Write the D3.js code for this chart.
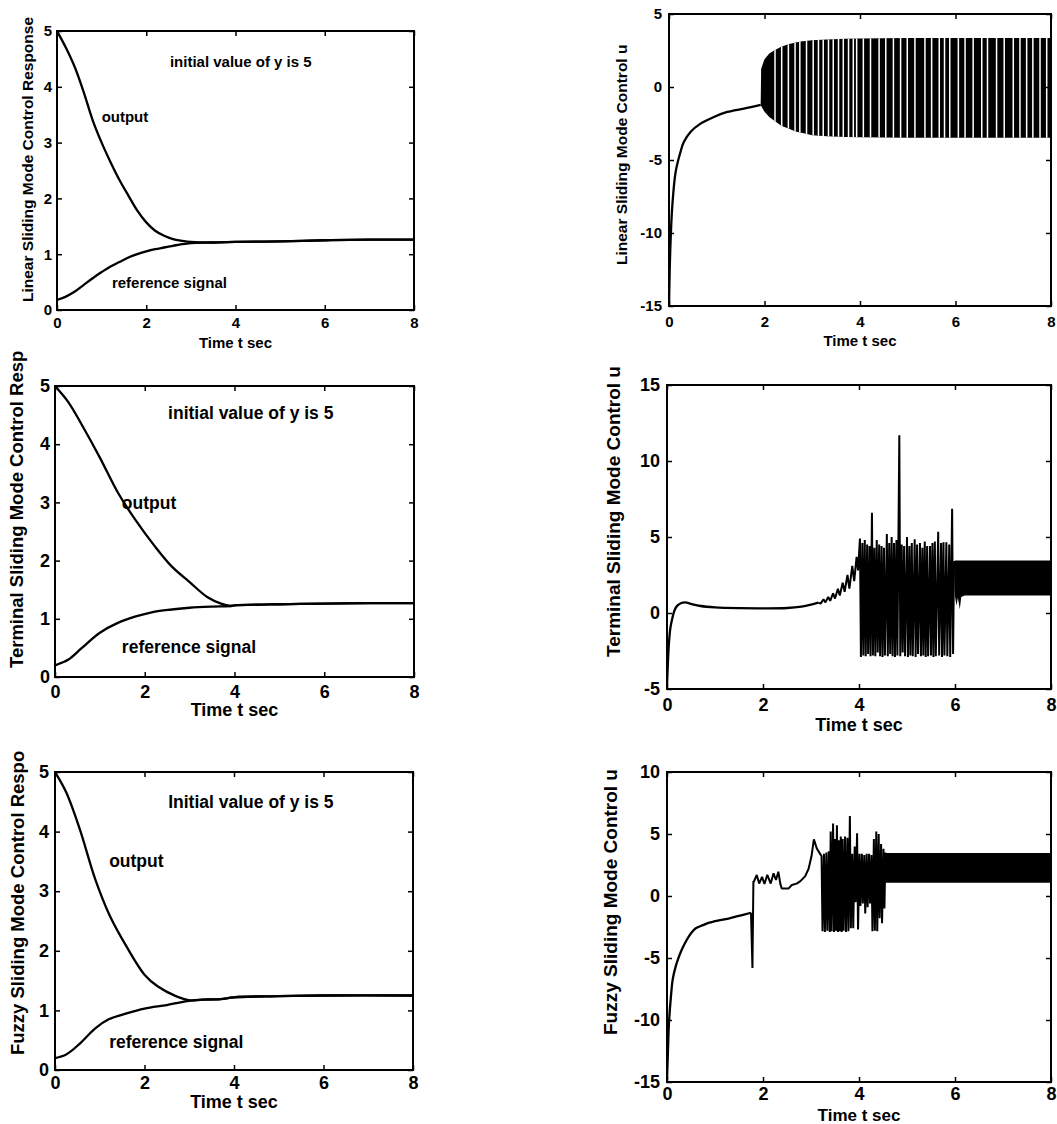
<!DOCTYPE html>
<html>
<head>
<meta charset="utf-8">
<script src="https://cdn.jsdelivr.net/npm/d3@7"></script>
<style>
  body { margin: 0; background: #fff; }
  text { font-family: "Liberation Sans", Arial, sans-serif; font-weight: bold; fill: #000; }
</style>
</head>
<body>
<div id="chart"></div>
<script>
// ---- data ----
const xTicks = [0, 2, 4, 6, 8]

// left column: output y(t) and reference signal
const linOutT = [0, 0.2, 0.4, 0.6, 0.8, 1.0, 1.2, 1.4, 1.6, 1.8, 2.0, 2.2, 2.4, 2.6, 2.8, 3.0, 3.5, 4, 5, 6, 7, 8]
const linOutY = [5, 4.7, 4.35, 3.9, 3.4, 3.0, 2.65, 2.33, 2.05, 1.78, 1.57, 1.42, 1.33, 1.27, 1.24, 1.22, 1.21, 1.22, 1.23, 1.25, 1.26, 1.26]
const linRefT = [0, 0.2, 0.4, 0.6, 0.8, 1.0, 1.2, 1.4, 1.6, 1.8, 2.0, 2.2, 2.4, 2.6, 2.8, 3.0, 3.5, 4, 5, 6, 7, 8]
const linRefY = [0.18, 0.24, 0.33, 0.45, 0.57, 0.68, 0.78, 0.86, 0.94, 1.0, 1.05, 1.09, 1.12, 1.15, 1.18, 1.2, 1.21, 1.22, 1.23, 1.25, 1.26, 1.26]

const termOutT = [0, 0.3, 0.6, 1.0, 1.4, 1.8, 2.2, 2.6, 3.0, 3.4, 3.7, 3.9, 4.0, 5, 6, 7, 8]
const termOutY = [5, 4.72, 4.33, 3.77, 3.17, 2.69, 2.27, 1.9, 1.63, 1.37, 1.26, 1.22, 1.23, 1.25, 1.26, 1.27, 1.27]
const termRefT = [0, 0.3, 0.6, 1.0, 1.4, 1.8, 2.2, 2.6, 3.0, 3.5, 3.9, 4.0, 5, 6, 7, 8]
const termRefY = [0.2, 0.3, 0.5, 0.76, 0.93, 1.04, 1.12, 1.16, 1.19, 1.21, 1.22, 1.23, 1.25, 1.26, 1.27, 1.27]

const fuzOutT = [0, 0.25, 0.55, 0.9, 1.23, 1.6, 2.0, 2.3, 2.7, 3.0, 3.3, 3.7, 4.0, 5, 6, 8]
const fuzOutY = [5, 4.66, 4.05, 3.2, 2.58, 2.07, 1.6, 1.4, 1.24, 1.17, 1.18, 1.19, 1.22, 1.24, 1.25, 1.25]
const fuzRefT = [0, 0.25, 0.55, 0.9, 1.2, 1.6, 2.0, 2.5, 3.0, 3.3, 3.7, 4.0, 5, 6, 8]
const fuzRefY = [0.2, 0.26, 0.44, 0.7, 0.85, 0.95, 1.03, 1.09, 1.16, 1.18, 1.19, 1.22, 1.24, 1.25, 1.25]

// right column: control u(t)
const linUT = [0, 0.015, 0.035, 0.07, 0.14, 0.24, 0.31, 0.45, 0.66, 0.94, 1.22, 1.57, 1.92]
const linU = [-15, -12.5, -10.4, -8.1, -5.8, -4.45, -3.77, -3.08, -2.51, -2.05, -1.71, -1.48, -1.22]
// chattering band: upper / lower envelope
const linBandT = [1.92, 1.93, 2.0, 2.1, 2.2, 2.35, 2.5, 2.65, 2.8, 3.0, 3.3, 3.7, 4.0, 5, 6, 7, 8]
const linBandHi = [-1.22, 1.25, 1.9, 2.3, 2.5, 2.75, 2.92, 3.05, 3.13, 3.2, 3.26, 3.3, 3.32, 3.35, 3.36, 3.36, 3.36]
const linBandLo = [-1.22, -1.3, -1.7, -2.05, -2.3, -2.65, -2.85, -3.05, -3.15, -3.3, -3.38, -3.42, -3.45, -3.47, -3.48, -3.48, -3.48]
// white streaks seen inside the band
const linGaps = [2.22, 2.36, 2.5, 2.64, 2.74, 2.88, 3.02, 3.13, 3.23, 3.34, 3.44, 3.55, 3.65, 3.76, 3.86,
  3.93, 4.07, 4.22, 4.4, 4.54, 4.7, 4.85, 4.99, 5.15, 5.36, 5.5, 5.66, 5.77, 5.88, 6.06, 6.2, 6.37,
  6.55, 6.67, 6.86, 7.02, 7.21, 7.35, 7.49, 7.62, 7.77, 7.91]

const termUT = [0, 0.02, 0.04, 0.07, 0.1, 0.16, 0.22, 0.3, 0.38, 0.5, 0.7, 1.0, 1.5, 2.0, 2.5, 2.8, 3.0, 3.15]
const termU = [-4.8, -3.2, -2.0, -1.0, -0.5, 0.2, 0.5, 0.66, 0.7, 0.6, 0.46, 0.37, 0.32, 0.31, 0.33, 0.42, 0.55, 0.68]
const termChaosT = [3.15, 3.2, 3.26, 3.3, 3.36, 3.4, 3.46, 3.5, 3.56, 3.6, 3.66, 3.7, 3.76, 3.8, 3.86, 3.9, 3.95, 3.98,
  4.02, 4.04, 4.07, 4.09, 4.12, 4.14, 4.17, 4.19, 4.22, 4.24, 4.27, 4.29, 4.32, 4.34, 4.37, 4.39, 4.42, 4.44,
  4.47, 4.49, 4.52, 4.54, 4.58, 4.60, 4.63, 4.65, 4.68, 4.70, 4.73, 4.75, 4.78, 4.80, 4.84, 4.86, 4.89, 4.91,
  4.94, 4.96, 5.00, 5.02, 5.05, 5.07, 5.10, 5.12, 5.16, 5.18, 5.21, 5.23, 5.27, 5.29, 5.32, 5.34, 5.37, 5.39,
  5.42, 5.44, 5.48, 5.50, 5.53, 5.55, 5.58, 5.60, 5.65, 5.67, 5.71, 5.73, 5.76, 5.78, 5.82, 5.84, 5.88, 5.90,
  5.94, 5.96, 5.98]
const termChaosU = [0.68, 0.62, 0.9, 0.7, 1.05, 0.8, 1.3, 0.95, 1.6, 1.15, 2.0, 1.4, 2.5, 1.6, 3.1, 2.1, 3.7, 2.8,
  4.9, -2.9, 4.6, -2.8, 4.8, -2.85, 4.5, -2.7, 4.4, -2.85, 6.6, -2.8, 4.3, -2.85, 4.8, -2.6, 4.5, -2.85,
  4.4, -2.9, 4.3, -2.8, 5.2, -2.85, 4.6, -2.7, 5.0, -2.85, 4.6, -2.9, 4.8, -2.8, 11.7, -2.85, 4.5, -2.6,
  4.4, -2.85, 5.0, -2.9, 4.4, -2.8, 4.6, -2.85, 4.85, -2.9, 4.5, -2.7, 4.6, -2.85, 4.3, -2.8, 4.7, -2.9,
  4.4, -2.85, 4.4, -2.8, 4.6, -2.9, 4.7, -2.85, 5.35, -2.8, 4.6, -2.9, 4.65, -2.8, 4.65, -2.85, 4.5, -2.9,
  6.85, -2.7, 3.4]
const termBandT = [5.98, 6.0, 6.03, 6.06, 6.1, 6.13, 6.2, 7, 8]
const termBandHi = [3.4, 3.45, 3.45, 3.45, 3.45, 3.45, 3.45, 3.45, 3.45]
const termBandLo = [3.4, 1.1, 0.5, 1.0, 0.25, 1.05, 1.15, 1.15, 1.15]

const fuzUT = [0, 0.02, 0.04, 0.08, 0.12, 0.18, 0.23, 0.3, 0.41, 0.5, 0.6, 0.75, 0.88, 1.1, 1.3, 1.5, 1.75]
const fuzU = [-14.8, -12.5, -10.3, -8.2, -6.7, -5.7, -5.1, -4.4, -3.55, -3.0, -2.6, -2.35, -2.15, -1.95, -1.8, -1.6, -1.35]
const fuzChaosT = [1.75, 1.78, 1.8, 1.81, 1.87, 1.92, 1.98, 2.03, 2.09, 2.16, 2.22, 2.27, 2.32, 2.36, 2.39, 2.53,
  2.6, 2.7, 2.78, 2.88, 2.95, 3.01, 3.06, 3.12, 3.22,
  3.24, 3.27, 3.29, 3.32, 3.34, 3.37, 3.39, 3.41, 3.43, 3.46, 3.48, 3.5, 3.52, 3.54, 3.56, 3.58, 3.6, 3.62,
  3.64, 3.66, 3.68, 3.71, 3.73, 3.76, 3.78, 3.81, 3.83, 3.86, 3.88, 3.91, 3.93, 3.96, 3.98, 4.01, 4.03,
  4.06, 4.08, 4.11, 4.13, 4.16, 4.18, 4.21, 4.23, 4.26, 4.28, 4.31, 4.33, 4.36, 4.38, 4.41, 4.43, 4.46,
  4.48, 4.51, 4.53, 4.55]
const fuzChaosU = [-1.35, -5.8, 1.2, 1.15, 1.7, 1.0, 1.55, 0.97, 1.7, 1.0, 1.83, 1.29, 1.96, 1.0, 0.6, 0.6,
  0.89, 1.0, 1.2, 1.6, 2.2, 3.2, 4.57, 3.84, 3.2,
  -2.85, 3.4, -2.9, 3.5, -2.8, 3.6, -2.9, 5.2, -2.85, 5.85, -2.9, 4.6, -2.8, 5.7, -2.9, 4.5, -2.85, 4.8,
  -2.9, 4.6, -2.8, 4.8, -2.9, 4.7, -2.85, 6.45, -2.6, 3.4, -2.6, 4.0, -0.5, 5.05, -2.7, 3.4, -0.8,
  3.4, -0.6, 3.3, -1.4, 3.4, -0.9, 3.4, -0.6, 3.3, -2.85, 4.6, -2.8, 5.2, -2.85, 5.0, -1.8, 4.2,
  -2.2, 3.8, -1.0, 3.5]
const fuzBandT = [4.55, 8]
const fuzBandHi = [3.47, 3.47]
const fuzBandLo = [1.06, 1.06]

// ---- layout ----
const W = 1057, H = 1124
const svg = d3.select('#chart').append('svg').attr('width', W).attr('height', H)
svg.append('rect').attr('width', W).attr('height', H).attr('fill', '#fff')

const pts = (t, v) => d3.zip(t, v)

const panels = [
  {id: 'p1', x0: 57, x1: 414, y0: 31, y1: 310, yDom: [0, 5], yTicks: [0, 1, 2, 3, 4, 5], fs: 15, lfs: 15.5,
    xPad: 7.5, yPad: 5, timeY: 343, tfs: 15, yl: {x: 28, y: 302}, noteFs: 15,
    lines: [[linOutT, linOutY], [linRefT, linRefY]],
    notes: [['initial value of y is 5', 2.53, 4.44], ['output', 1.0, 3.46], ['reference signal', 1.23, 0.48]],
    ylabel: 'Linear Sliding Mode Control Response'},
  {id: 'p2', x0: 669, x1: 1051, y0: 14, y1: 306, yDom: [-15, 5], yTicks: [-15, -10, -5, 0, 5], fs: 15, lfs: 15.5,
    xPad: 10.5, yPad: 7, timeY: 341, tfs: 15, yl: {x: 622, y: 265},
    lines: [[linUT, linU]], band: [linBandT, linBandHi, linBandLo], gaps: linGaps,
    ylabel: 'Linear Sliding Mode Control u'},
  {id: 'p3', x0: 55, x1: 414, y0: 386, y1: 677, yDom: [0, 5], yTicks: [0, 1, 2, 3, 4, 5], fs: 18, lfs: 18.5,
    xPad: 8.5, yPad: 5, timeY: 710, tfs: 18, yl: {x: 17, y: 668}, noteFs: 17.5,
    lines: [[termOutT, termOutY], [termRefT, termRefY]],
    notes: [['initial value of y is 5', 2.52, 4.54], ['output', 1.49, 3.0], ['reference signal', 1.49, 0.52]],
    ylabel: 'Terminal Sliding Mode Control Resp'},
  {id: 'p4', x0: 667, x1: 1051, y0: 385, y1: 689, yDom: [-5, 15], yTicks: [-5, 0, 5, 10, 15], fs: 18, lfs: 19,
    xPad: 9.5, yPad: 7, timeY: 725, tfs: 18, yl: {x: 613, y: 657},
    lines: [[termUT, termU]], chaos: [termChaosT, termChaosU], band: [termBandT, termBandHi, termBandLo],
    ylabel: 'Terminal Sliding Mode Control u'},
  {id: 'p5', x0: 55, x1: 413, y0: 772, y1: 1070, yDom: [0, 5], yTicks: [0, 1, 2, 3, 4, 5], fs: 18, lfs: 18.5,
    xPad: 6.5, yPad: 6, timeY: 1102, tfs: 18, yl: {x: 18, y: 1055}, noteFs: 17.5,
    lines: [[fuzOutT, fuzOutY], [fuzRefT, fuzRefY]],
    notes: [['Initial value of y is 5', 2.53, 4.5], ['output', 1.21, 3.51], ['reference signal', 1.21, 0.47]],
    ylabel: 'Fuzzy Sliding Mode Control Respo'},
  {id: 'p6', x0: 667, x1: 1051, y0: 772, y1: 1082, yDom: [-15, 10], yTicks: [-15, -10, -5, 0, 5, 10], fs: 18, lfs: 19,
    xPad: 5.5, yPad: 7, timeY: 1115, tfs: 17, yl: {x: 610, y: 1035},
    lines: [[fuzUT, fuzU]], chaos: [fuzChaosT, fuzChaosU], band: [fuzBandT, fuzBandHi, fuzBandLo],
    ylabel: 'Fuzzy Sliding Mode Control u'}
]

panels.forEach(p => {
  const x = d3.scaleLinear().domain([0, 8]).range([p.x0, p.x1])
  const y = d3.scaleLinear().domain(p.yDom).range([p.y1, p.y0])
  const g = svg.append('g')

  g.append('clipPath').attr('id', 'clip-' + p.id).append('rect')
    .attr('x', p.x0).attr('y', p.y0).attr('width', p.x1 - p.x0).attr('height', p.y1 - p.y0)
  const plot = g.append('g').attr('clip-path', 'url(#clip-' + p.id + ')')

  if (p.band) {
    const rows = p.band[0].map((t, i) => [t, p.band[1][i], p.band[2][i]])
    const area = d3.area().x(d => x(d[0])).y0(d => y(d[2])).y1(d => y(d[1]))
    plot.append('path').attr('d', area(rows)).attr('fill', '#000')
    if (p.gaps) {
      plot.append('clipPath').attr('id', 'band-' + p.id).append('path').attr('d', area(rows))
      plot.append('g').attr('clip-path', 'url(#band-' + p.id + ')')
        .selectAll('line').data(p.gaps).enter().append('line')
        .attr('x1', d => x(d)).attr('x2', d => x(d))
        .attr('y1', p.y0).attr('y2', p.y1)
        .attr('stroke', '#fff').attr('stroke-width', 1.5)
    }
  }

  const smooth = d3.line().x(d => x(d[0])).y(d => y(d[1])).curve(d3.curveCatmullRom.alpha(0.5))
  p.lines.forEach(s => {
    plot.append('path').attr('d', smooth(pts(s[0], s[1])))
      .attr('fill', 'none').attr('stroke', '#000').attr('stroke-width', 2.3)
  })
  if (p.chaos) {
    const straight = d3.line().x(d => x(d[0])).y(d => y(d[1]))
    plot.append('path').attr('d', straight(pts(p.chaos[0], p.chaos[1])))
      .attr('fill', 'none').attr('stroke', '#000').attr('stroke-width', 2).attr('stroke-linejoin', 'bevel')
  }

  // frame and inward ticks on all four sides
  g.append('rect').attr('x', p.x0).attr('y', p.y0).attr('width', p.x1 - p.x0).attr('height', p.y1 - p.y0)
    .attr('fill', 'none').attr('stroke', '#000').attr('stroke-width', 2)

  const fmt = d => String(d)
  const style = sel => {
    sel.select('.domain').remove()
    sel.selectAll('line').attr('stroke', '#000').attr('stroke-width', 1.5)
    sel.selectAll('text').style('font-size', p.fs + 'px').attr('fill', '#000')
  }
  g.append('g').attr('transform', 'translate(0,' + p.y1 + ')')
    .call(d3.axisBottom(x).tickValues(xTicks).tickSizeInner(-5).tickSizeOuter(0).tickPadding(p.xPad).tickFormat(fmt))
    .call(style)
  g.append('g').attr('transform', 'translate(0,' + p.y0 + ')')
    .call(d3.axisTop(x).tickValues(xTicks).tickSizeInner(-5).tickSizeOuter(0).tickFormat(''))
    .call(style)
  g.append('g').attr('transform', 'translate(' + p.x0 + ',0)')
    .call(d3.axisLeft(y).tickValues(p.yTicks).tickSizeInner(-5).tickSizeOuter(0).tickPadding(p.yPad).tickFormat(fmt))
    .call(style)
  g.append('g').attr('transform', 'translate(' + p.x1 + ',0)')
    .call(d3.axisRight(y).tickValues(p.yTicks).tickSizeInner(-5).tickSizeOuter(0).tickFormat(''))
    .call(style)

  g.append('text').text('Time t sec')
    .attr('x', (p.x0 + p.x1) / 2).attr('y', p.timeY).attr('dy', '0.35em')
    .attr('text-anchor', 'middle').style('font-size', p.tfs + 'px')

  g.append('text').text(p.ylabel)
    .attr('transform', 'translate(' + p.yl.x + ',' + p.yl.y + ') rotate(-90)')
    .attr('dy', '0.35em').attr('text-anchor', 'start').style('font-size', p.lfs + 'px')

  if (p.notes) {
    p.notes.forEach(n => {
      g.append('text').text(n[0])
        .attr('x', x(n[1])).attr('y', y(n[2])).attr('dy', '0.35em')
        .style('font-size', p.noteFs + 'px')
    })
  }
})
</script>
</body>
</html>
